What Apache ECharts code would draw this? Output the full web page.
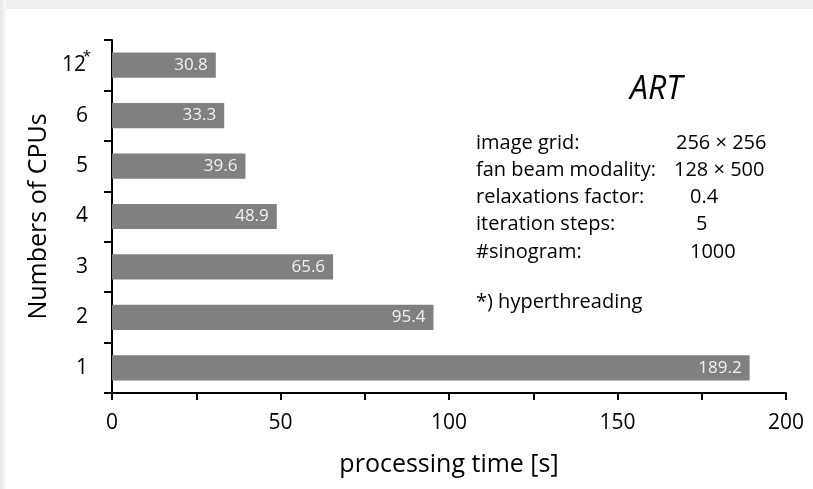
<!DOCTYPE html>
<html>
<head>
<meta charset="utf-8">
<script src="https://cdn.jsdelivr.net/npm/echarts@6/dist/echarts.min.js"></script>
<style>
  html, body { margin: 0; padding: 0; background: #ffffff; }
  #chart { width: 813px; height: 489px; }
</style>
</head>
<body>
<div id="chart"></div>
<script>
// Number of CPUs (bottom to top) and measured ART processing times in seconds
const cpuCounts = ['1', '2', '3', '4', '5', '6', '12'];
const processingTimes = [189.2, 95.4, 65.6, 48.9, 39.6, 33.3, 30.8];
const xTickLabels = [0, 50, 100, 150, 200];

// Reconstruction parameters shown beside the bars
const paramNames = ['image grid:', 'fan beam modality:', 'relaxations factor:', 'iteration steps:', '#sinogram:'];
const paramValues = ['256 × 256', '128 × 500', '0.4', '5', '1000'];
const footNote = '*) hyperthreading';
const titleText = 'ART';

const FONT = '"Open Sans", "DejaVu Sans", sans-serif';
const chart = echarts.init(document.getElementById('chart'), null, { renderer: 'canvas' });

const valueX = [676, 674, 690, 696, 690];
const infoGraphics = [];
paramNames.forEach((name, i) => {
  infoGraphics.push({
    type: 'text', left: 476, top: 133 + i * 27.2,
    style: { text: name, font: '20px ' + FONT, fill: '#000' }
  });
  infoGraphics.push({
    type: 'text', left: valueX[i], top: 133 + i * 27.2,
    style: { text: paramValues[i], font: '20px ' + FONT, fill: '#000' }
  });
});

chart.setOption({
  animation: false,
  backgroundColor: '#ffffff',
  grid: { left: 112, right: 27, top: 40, bottom: 96, containLabel: false },
  xAxis: {
    type: 'value',
    min: 0, max: 200, interval: 25,
    name: 'processing time [s]',
    nameLocation: 'middle',
    nameGap: 59,
    nameTextStyle: { fontFamily: FONT, fontSize: 25, color: '#000' },
    axisLine: { show: true, lineStyle: { color: '#000', width: 2 } },
    axisTick: { show: true, inside: false, length: 7, lineStyle: { color: '#000', width: 2 } },
    axisLabel: {
      margin: 20,
      fontFamily: FONT, fontSize: 21, color: '#000',
      formatter: v => (xTickLabels.indexOf(v) >= 0 ? String(v) : '')
    },
    splitLine: { show: false }
  },
  yAxis: {
    type: 'category',
    data: cpuCounts,
    name: 'Numbers of CPUs',
    nameLocation: 'middle',
    nameGap: 56,
    nameRotate: 90,
    nameTextStyle: { fontFamily: FONT, fontSize: 25, color: '#000' },
    axisLine: { show: true, lineStyle: { color: '#000', width: 2 } },
    axisTick: { show: true, length: 8, lineStyle: { color: '#000', width: 2 } },
    axisLabel: {
      margin: 24,
      fontFamily: FONT, fontSize: 21, color: '#000',
      formatter: v => (v === '12' ? '12{sup|*}' : v),
      rich: {
        sup: { fontFamily: FONT, fontSize: 15, color: '#000', width: 2, align: 'left', verticalAlign: 'top', padding: [0, 0, 16, 0] }
      }
    }
  },
  series: [{
    type: 'bar',
    data: processingTimes,
    barCategoryGap: '50%',
    itemStyle: { color: '#808080' },
    label: {
      show: true,
      position: 'insideRight',
      distance: 8,
      color: '#f2f2f2',
      fontFamily: FONT,
      fontSize: 17,
      formatter: p => p.value.toFixed(1)
    }
  }],
  graphic: [
    // soft grey page edge along the top and left
    { type: 'rect', left: 0, top: 0, shape: { width: 813, height: 9 }, style: { fill: '#efefef' }, silent: true },
    {
      type: 'rect', left: 0, top: 0, shape: { width: 6, height: 489 }, silent: true,
      style: {
        fill: new echarts.graphic.LinearGradient(0, 0, 1, 0, [
          { offset: 0, color: '#e6e6e6' }, { offset: 1, color: '#fafafa' }
        ])
      }
    },
    {
      type: 'text', left: 630, top: 74,
      style: { text: titleText, font: 'italic 32px ' + FONT, fill: '#000' }
    },
    ...infoGraphics,
    {
      type: 'text', left: 476, top: 292,
      style: { text: footNote, font: '20px ' + FONT, fill: '#000' }
    }
  ]
});
</script>
</body>
</html>
